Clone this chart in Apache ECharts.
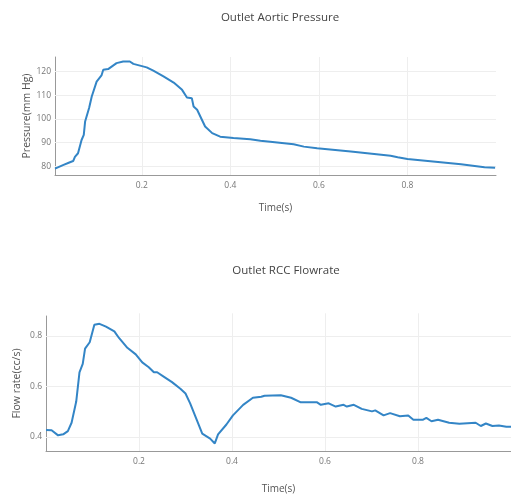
<!DOCTYPE html>
<html>
<head>
<meta charset="utf-8">
<script src="https://cdn.jsdelivr.net/npm/echarts@6/dist/echarts.min.js"></script>
<style>html,body{margin:0;padding:0;background:#fff}#c{width:511px;height:495px}</style>
</head>
<body>
<div id="c"></div>
<script>
// Top chart: Outlet Aortic Pressure
const pressureTime = [0.004, 0.022, 0.035, 0.045, 0.049, 0.056, 0.064, 0.069, 0.072, 0.081, 0.087, 0.098, 0.109, 0.113, 0.124, 0.143, 0.158, 0.173, 0.181, 0.211, 0.226, 0.249, 0.272, 0.291, 0.302, 0.313, 0.317, 0.325, 0.343, 0.359, 0.377, 0.407, 0.445, 0.468, 0.49, 0.543, 0.566, 0.596, 0.672, 0.762, 0.778, 0.8, 0.921, 0.974, 0.998];
const pressureValues = [79.0, 80.5, 81.5, 82.2, 84.0, 85.5, 91.1, 93.3, 98.9, 104.6, 109.5, 115.8, 118.4, 120.8, 121.1, 123.6, 124.3, 124.3, 123.3, 121.8, 120.4, 118.0, 115.4, 112.3, 109.1, 108.8, 105.3, 103.9, 96.8, 94.0, 92.5, 91.9, 91.4, 90.8, 90.4, 89.3, 88.3, 87.6, 86.2, 84.4, 83.8, 83.1, 80.8, 79.6, 79.4];
// Bottom chart: Outlet RCC Flowrate
const flowTime = [0.0, 0.012, 0.026, 0.037, 0.047, 0.055, 0.065, 0.072, 0.079, 0.084, 0.094, 0.104, 0.115, 0.129, 0.147, 0.157, 0.175, 0.193, 0.207, 0.221, 0.232, 0.239, 0.253, 0.271, 0.289, 0.3, 0.31, 0.324, 0.336, 0.353, 0.363, 0.37, 0.388, 0.402, 0.424, 0.445, 0.463, 0.47, 0.505, 0.527, 0.548, 0.583, 0.591, 0.608, 0.623, 0.64, 0.647, 0.662, 0.679, 0.701, 0.708, 0.726, 0.74, 0.761, 0.779, 0.79, 0.811, 0.818, 0.829, 0.843, 0.867, 0.889, 0.924, 0.935, 0.946, 0.96, 0.974, 0.99, 1.0];
const flowValues = [0.427, 0.426, 0.406, 0.41, 0.423, 0.456, 0.54, 0.656, 0.689, 0.75, 0.775, 0.844, 0.848, 0.837, 0.818, 0.792, 0.753, 0.727, 0.695, 0.676, 0.656, 0.656, 0.639, 0.617, 0.591, 0.572, 0.533, 0.468, 0.413, 0.393, 0.374, 0.41, 0.449, 0.485, 0.527, 0.555, 0.559, 0.563, 0.565, 0.555, 0.537, 0.537, 0.527, 0.533, 0.52, 0.527, 0.52, 0.527, 0.511, 0.501, 0.505, 0.485, 0.494, 0.482, 0.485, 0.468, 0.468, 0.475, 0.462, 0.468, 0.456, 0.452, 0.456, 0.443, 0.453, 0.443, 0.445, 0.44, 0.44];
const timeTicks = [0.2, 0.4, 0.6, 0.8];
const pressureTicks = [80, 90, 100, 110, 120];
const flowTicks = [0.4, 0.6, 0.8];

const FONT = 'Open Sans';
const chart = echarts.init(document.getElementById('c'), null, {renderer: 'canvas'});

function xAx(gi, min, max, ticks, h, gap) {
  return {
    gridIndex: gi, type: 'value', min: min, max: max,
    axisLine: {show: true, lineStyle: {color: '#999', width: 1}},
    axisTick: {show: true, customValues: ticks, inside: true, length: h, lineStyle: {color: '#eeeeee', width: 1}},
    axisLabel: {customValues: ticks, color: '#777', fontSize: 8.5, fontFamily: FONT, margin: 6},
    splitLine: {show: false},
    name: 'Time(s)', nameLocation: 'middle', nameGap: gap, nameMoveOverlap: false,
    nameTextStyle: {color: '#555', fontSize: 10, fontFamily: FONT}
  };
}
function yAx(gi, min, max, ticks, w, name, gap, fmt) {
  return {
    gridIndex: gi, type: 'value', min: min, max: max,
    axisLine: {show: true, lineStyle: {color: '#999', width: 1}},
    axisTick: {show: true, customValues: ticks, inside: true, length: w, lineStyle: {color: '#eeeeee', width: 1}},
    axisLabel: {customValues: ticks, color: '#777', fontSize: 8.5, fontFamily: FONT, margin: 4, formatter: fmt},
    splitLine: {show: false},
    name: name, nameLocation: 'middle', nameGap: gap, nameMoveOverlap: false,
    nameTextStyle: {color: '#555', fontSize: 10.5, fontFamily: FONT}
  };
}

chart.setOption({
  animation: false,
  backgroundColor: '#fff',
  title: [
    {text: 'Outlet Aortic Pressure', left: 275, top: 7, textAlign: 'center',
     textStyle: {color: '#444', fontSize: 11.5, fontWeight: 'normal', fontFamily: FONT}},
    {text: 'Outlet RCC Flowrate', left: 281, top: 260, textAlign: 'center',
     textStyle: {color: '#444', fontSize: 11.5, fontWeight: 'normal', fontFamily: FONT}}
  ],
  grid: [
    {left: 55, top: 57, right: 15, height: 118},
    {left: 46, top: 316, right: -4.5, height: 137.7}
  ],
  xAxis: [
    xAx(0, pressureTime[0], 1.0, timeTicks, 118, 28),
    xAx(1, 0.0, 1.0, timeTicks, 137.7, 33)
  ],
  yAxis: [
    yAx(0, 76.3, 126.2, pressureTicks, 441, 'Pressure(mm Hg)', 22, v => String(v)),
    yAx(1, 0.344, 0.879, flowTicks, 470, 'Flow rate(cc/s)', 23, v => v.toFixed(1))
  ],
  series: [
    {type: 'line', xAxisIndex: 0, yAxisIndex: 0, showSymbol: false,
     lineStyle: {color: '#3385c6', width: 2}, itemStyle: {color: '#3385c6'},
     data: pressureTime.map((t, i) => [t, pressureValues[i]])},
    {type: 'line', xAxisIndex: 1, yAxisIndex: 1, showSymbol: false,
     lineStyle: {color: '#3385c6', width: 2}, itemStyle: {color: '#3385c6'},
     data: flowTime.map((t, i) => [t, flowValues[i]])}
  ]
});
</script>
</body>
</html>
